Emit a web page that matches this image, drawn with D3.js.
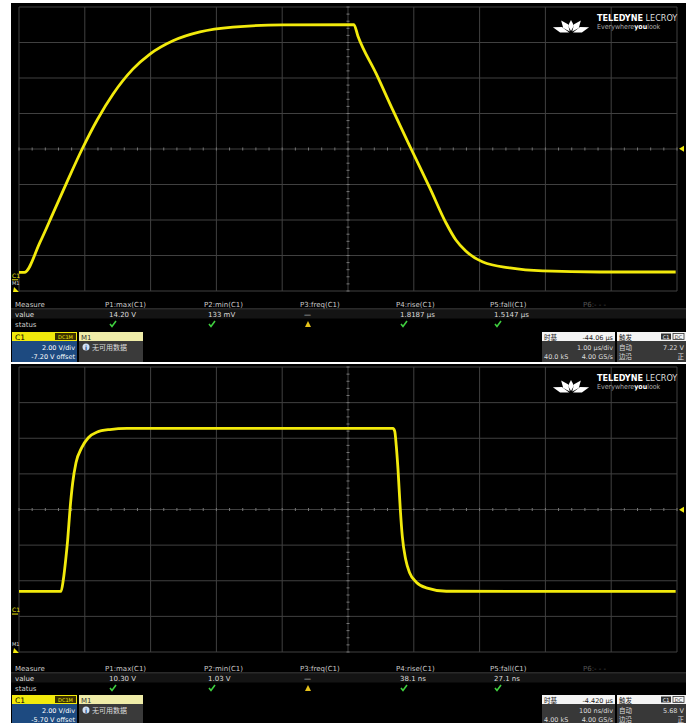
<!DOCTYPE html>
<html>
<head>
<meta charset="utf-8">
<script src="https://cdn.jsdelivr.net/npm/d3@7"></script>
<style>
  body { margin: 0; background: #fff; }
  svg { display: block; font-family: "DejaVu Sans", sans-serif; }
</style>
</head>
<body>
<svg width="686" height="723"></svg>
<script>
// trace 1: time in µs, volts
const topTime = [0, 0.08, 0.32, 0.52, 0.73, 0.96, 1.19, 1.43, 1.73, 1.99, 2.34, 2.75, 3.25, 4.01, 5.09,
  5.15, 5.43, 5.68, 5.96, 6.25, 6.49, 6.64, 6.79, 7.05, 7.46, 7.96, 8.83, 9.98];
const topVolt = [0.25, 0.25, 1.95, 3.6, 5.35, 7.2, 8.85, 10.3, 11.7, 12.55, 13.3, 13.8, 14.07, 14.19, 14.2,
  13.57, 11.43, 9.4, 7.2, 4.95, 3.03, 2.07, 1.45, 0.83, 0.5, 0.33, 0.27, 0.27];

// trace 2: time in ns, volts
const botTime = [0, 63.8, 67.4, 71, 74, 77.5, 81.6, 86.6, 95.3, 105.3, 118, 138, 164,
  568.4, 571, 573.4, 576, 579.5, 582.5, 587.7, 593.8, 603.8, 619, 649.4, 998];
const botVolt = [1.1, 1.1, 1.77, 2.89, 4.01, 5.7, 7.2, 8.32, 9.17, 9.73, 10.04, 10.19, 10.25,
  10.25, 10.1, 9.26, 7.95, 5.7, 4.2, 2.89, 2.14, 1.62, 1.3, 1.11, 1.1];

const measureNames = ["Measure", "P1:max(C1)", "P2:min(C1)", "P3:freq(C1)", "P4:rise(C1)", "P5:fall(C1)", "P6:- - -"];
const topValues = ["value", "14.20 V", "133 mV", "—", "1.8187 µs", "1.5147 µs"];
const botValues = ["value", "10.30 V", "1.03 V", "—", "38.1 ns", "27.1 ns"];
const statusMarks = ["status", "ok", "ok", "warn", "ok", "ok"];

const topInfo = { vdiv: "2.00 V/div", offset: "-7.20 V offset", delay: "-44.06 µs", tdiv: "1.00 µs/div", samples: "40.0 kS", rate: "4.00 GS/s", level: "7.22 V" };
const botInfo = { vdiv: "2.00 V/div", offset: "-5.70 V offset", delay: "-4.420 µs", tdiv: "100 ns/div", samples: "4.00 kS", rate: "4.00 GS/s", level: "5.68 V" };

const colX = [15, 105, 204, 300, 396, 490, 583];
const yellow = "#f2ea0c";

const svg = d3.select("svg");

function drawScope(p) {
  const g = svg.append("g");

  g.append("rect").attr("x", 11).attr("y", p.top).attr("width", 675).attr("height", p.bottom - p.top).attr("fill", "#000");

  const x = d3.scaleLinear().domain([0, p.tmax]).range([19, 677]);
  const y = d3.scaleLinear().domain([p.center - 8, p.center + 8]).range([p.gridBottom, p.gridTop]);

  // grid
  const xt = d3.range(0, 11).map(i => i * p.tmax / 10);
  const yt = d3.range(0, 9).map(i => p.center - 8 + i * 2);
  g.selectAll(".vg").data(xt).enter().append("line")
    .attr("x1", d => x(d)).attr("x2", d => x(d))
    .attr("y1", p.gridTop).attr("y2", p.gridBottom)
    .attr("stroke", "#404040").attr("stroke-width", 1);
  g.selectAll(".hg").data(yt).enter().append("line")
    .attr("x1", 19).attr("x2", 677)
    .attr("y1", d => y(d)).attr("y2", d => y(d))
    .attr("stroke", "#404040").attr("stroke-width", 1);

  // center line ticks
  const minorX = d3.range(0, 51).map(i => i * p.tmax / 50);
  g.selectAll(".mx").data(minorX).enter().append("line")
    .attr("x1", d => x(d)).attr("x2", d => x(d))
    .attr("y1", y(p.center) - 1.5).attr("y2", y(p.center) + 1.5)
    .attr("stroke", "#777");
  const minorY = d3.range(0, 41).map(i => p.center - 8 + i * 0.4);
  g.selectAll(".my").data(minorY).enter().append("line")
    .attr("x1", x(p.tmax / 2) - 1.5).attr("x2", x(p.tmax / 2) + 1.5)
    .attr("y1", d => y(d)).attr("y2", d => y(d))
    .attr("stroke", "#777");

  // logo: fan of blades from a bottom point
  const lg = g.append("g").attr("transform", `translate(571,${p.gridTop + 26})`);
  [[-72, 19], [-38, 16], [0, 13], [38, 16], [72, 19]].forEach(b => {
    const L = b[1];
    lg.append("path").attr("d", `M0,-2 L-3,${-L * 0.55} L0,${-L} L3,${-L * 0.55} Z`)
      .attr("fill", "#fff").attr("transform", `rotate(${b[0]})`);
  });
  g.append("text").attr("x", 597).attr("y", p.gridTop + 14).attr("fill", "#fff")
    .attr("font-family", "DejaVu Sans Condensed").attr("font-size", 9).attr("font-weight", "bold")
    .text("TELEDYNE").append("tspan").attr("font-weight", "normal").attr("fill", "#ddd").text(" LECROY");
  g.append("text").attr("x", 597).attr("y", p.gridTop + 22).attr("fill", "#aaa")
    .attr("font-family", "DejaVu Sans Condensed").attr("font-size", 7)
    .text("Everywhere").append("tspan").attr("fill", "#fff").attr("font-weight", "bold").text("you")
    .append("tspan").attr("fill", "#aaa").attr("font-weight", "normal").text("look");

  // trace
  const pts = p.time.map((t, i) => [t, p.volt[i]]);
  const line = d3.line().x(d => x(d[0])).y(d => y(d[1])).curve(d3.curveMonotoneX);
  g.append("path").datum(pts).attr("d", line)
    .attr("fill", "none").attr("stroke", yellow).attr("stroke-width", 2.8).attr("stroke-linejoin", "round");

  // markers
  g.append("path").attr("d", `M684,${y(p.trig) - 3} L679,${y(p.trig)} L684,${y(p.trig) + 3} Z`).attr("fill", yellow);
  g.append("text").attr("x", 12).attr("y", y(0) + 1).attr("font-size", 6).attr("fill", yellow).text("C1");
  g.append("line").attr("x1", 12).attr("x2", 18).attr("y1", y(0) + 3).attr("y2", y(0) + 3).attr("stroke", yellow);
  g.append("text").attr("x", 12).attr("y", p.gridBottom - 6).attr("font-size", 5).attr("fill", "#ddd").text("M1");
  g.append("path").attr("d", `M14,${p.gridBottom - 4} L19,${p.gridBottom + 1} L13,${p.gridBottom + 1} Z`).attr("fill", yellow);

  // measure table
  const mt = p.measureY;
  g.append("line").attr("x1", 11).attr("x2", 686).attr("y1", mt + 5).attr("y2", mt + 5).attr("stroke", "#555");
  g.append("rect").attr("x", 11).attr("y", mt + 5.5).attr("width", 675).attr("height", 9).attr("fill", "#141414");
  g.selectAll(".mn").data(measureNames).enter().append("text")
    .attr("x", (d, i) => colX[i]).attr("y", mt + 3)
    .attr("font-size", 7).attr("fill", (d, i) => i === 6 ? "#555" : "#ccc").text(d => d);
  g.selectAll(".mv").data(p.values).enter().append("text")
    .attr("x", (d, i) => colX[i] + (i === 0 ? 0 : 4)).attr("y", mt + 13)
    .attr("font-size", 7).attr("fill", "#ddd").text(d => d);
  g.append("text").attr("x", colX[0]).attr("y", mt + 23).attr("font-size", 7).attr("fill", "#ccc").text(statusMarks[0]);
  statusMarks.slice(1).forEach((s, i) => {
    const cx = colX[i + 1] + 8, cy = mt + 20;
    if (s === "ok") {
      g.append("path").attr("d", `M${cx - 3},${cy} L${cx - 1},${cy + 2.5} L${cx + 3},${cy - 3}`)
        .attr("fill", "none").attr("stroke", "#3fcf3f").attr("stroke-width", 1.6);
    } else {
      g.append("path").attr("d", `M${cx},${cy - 3} L${cx + 3},${cy + 3} L${cx - 3},${cy + 3} Z`).attr("fill", "#e6c21a");
    }
  });

  // channel boxes
  const bt = p.boxTop, bb = p.bottom;
  g.append("rect").attr("x", 12).attr("y", bt).attr("width", 65).attr("height", 9).attr("fill", yellow);
  g.append("text").attr("x", 15).attr("y", bt + 7.5).attr("font-size", 7.5).attr("fill", "#000").text("C1");
  g.append("rect").attr("x", 55).attr("y", bt + 1).attr("width", 21).attr("height", 7).attr("fill", "#3a3000");
  g.append("text").attr("x", 65.5).attr("y", bt + 6.5).attr("text-anchor", "middle").attr("font-size", 5).attr("fill", yellow).text("DC1M");
  g.append("rect").attr("x", 12).attr("y", bt + 9).attr("width", 65).attr("height", bb - bt - 9).attr("fill", "#1d4a80");
  g.append("text").attr("x", 75).attr("y", bt + 17.5).attr("text-anchor", "end").attr("font-size", 6.5).attr("fill", "#fff").text(p.info.vdiv);
  g.append("text").attr("x", 75).attr("y", bt + 26.5).attr("text-anchor", "end").attr("font-size", 6.5).attr("fill", "#fff").text(p.info.offset);

  g.append("rect").attr("x", 79).attr("y", bt).attr("width", 64).attr("height", 9).attr("fill", "#efeca8");
  g.append("text").attr("x", 81).attr("y", bt + 7.5).attr("font-size", 7).attr("fill", "#333").text("M1");
  g.append("rect").attr("x", 79).attr("y", bt + 9).attr("width", 64).attr("height", bb - bt - 9).attr("fill", "#3a3a3a");
  g.append("circle").attr("cx", 86).attr("cy", bt + 15).attr("r", 3.5).attr("fill", "#cfe0f5");
  g.append("text").attr("x", 86).attr("y", bt + 17.5).attr("text-anchor", "middle").attr("font-size", 6).attr("font-weight", "bold").attr("fill", "#1d4a80").text("i");
  g.append("text").attr("x", 92).attr("y", bt + 17.5).attr("font-family", "Noto Sans CJK SC").attr("font-size", 7).attr("fill", "#ddd").text("无可用数据");

  // timebase box
  g.append("rect").attr("x", 542).attr("y", bt).attr("width", 73).attr("height", 9).attr("fill", "#f4f4f4");
  g.append("rect").attr("x", 542).attr("y", bt + 9).attr("width", 73).attr("height", bb - bt - 9).attr("fill", "#383838");
  g.append("text").attr("x", 544).attr("y", bt + 7.5).attr("font-family", "Noto Sans CJK SC").attr("font-size", 6.5).attr("fill", "#222").text("时基");
  g.append("text").attr("x", 613).attr("y", bt + 7.5).attr("text-anchor", "end").attr("font-size", 6.5).attr("fill", "#222").text(p.info.delay);
  g.append("text").attr("x", 613).attr("y", bt + 17.5).attr("text-anchor", "end").attr("font-size", 6.5).attr("fill", "#ddd").text(p.info.tdiv);
  g.append("text").attr("x", 544).attr("y", bt + 26.5).attr("font-size", 6.5).attr("fill", "#ddd").text(p.info.samples);
  g.append("text").attr("x", 613).attr("y", bt + 26.5).attr("text-anchor", "end").attr("font-size", 6.5).attr("fill", "#ddd").text(p.info.rate);

  // trigger box
  g.append("rect").attr("x", 617).attr("y", bt).attr("width", 69).attr("height", 9).attr("fill", "#f4f4f4");
  g.append("rect").attr("x", 617).attr("y", bt + 9).attr("width", 69).attr("height", bb - bt - 9).attr("fill", "#383838");
  g.append("text").attr("x", 619).attr("y", bt + 7.5).attr("font-family", "Noto Sans CJK SC").attr("font-size", 6.5).attr("fill", "#222").text("触发");
  g.append("rect").attr("x", 661).attr("y", bt + 1.5).attr("width", 10).attr("height", 6).attr("fill", "#333");
  g.append("text").attr("x", 666).attr("y", bt + 6.5).attr("text-anchor", "middle").attr("font-size", 5).attr("fill", "#fff").text("C1");
  g.append("rect").attr("x", 673).attr("y", bt + 1.5).attr("width", 11).attr("height", 6).attr("fill", "none").attr("stroke", "#333").attr("stroke-width", 0.8);
  g.append("text").attr("x", 678.5).attr("y", bt + 6.5).attr("text-anchor", "middle").attr("font-size", 5).attr("fill", "#333").text("DC");
  g.append("text").attr("x", 619).attr("y", bt + 17.5).attr("font-family", "Noto Sans CJK SC").attr("font-size", 6.5).attr("fill", "#ddd").text("自动");
  g.append("text").attr("x", 684).attr("y", bt + 17.5).attr("text-anchor", "end").attr("font-size", 6.5).attr("fill", "#ddd").text(p.info.level);
  g.append("text").attr("x", 619).attr("y", bt + 26.5).attr("font-family", "Noto Sans CJK SC").attr("font-size", 6.5).attr("fill", "#ddd").text("边沿");
  g.append("text").attr("x", 684).attr("y", bt + 26.5).attr("text-anchor", "end").attr("font-family", "Noto Sans CJK SC").attr("font-size", 6.5).attr("fill", "#ddd").text("正");
}

drawScope({ top: 3, bottom: 362, gridTop: 7, gridBottom: 291, center: 7.2, trig: 7.22, tmax: 10,
  time: topTime, volt: topVolt, values: topValues, info: topInfo, measureY: 304, boxTop: 332 });
drawScope({ top: 364, bottom: 723, gridTop: 367, gridBottom: 652, center: 5.7, trig: 5.68, tmax: 1000,
  time: botTime, volt: botVolt, values: botValues, info: botInfo, measureY: 668, boxTop: 695 });
</script>
</body>
</html>
